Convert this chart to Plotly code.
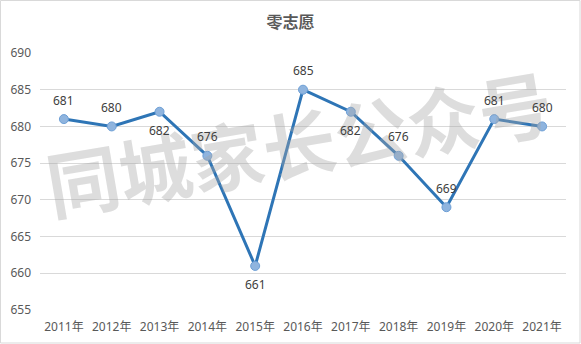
import plotly.graph_objects as go

years = ["2011年", "2012年", "2013年", "2014年", "2015年", "2016年",
         "2017年", "2018年", "2019年", "2020年", "2021年"]
scores = [681, 680, 682, 676, 661, 685, 682, 676, 669, 681, 680]
label_above = [True, True, False, True, False, True, False, True, True, True, True]
y_ticks = [655, 660, 665, 670, 675, 680, 685, 690]

FONT = "Segoe UI, Noto Sans, Noto Sans CJK SC, sans-serif"
CJK = "Microsoft YaHei, Noto Sans CJK SC, sans-serif"

fig = go.Figure()
fig.add_trace(go.Scatter(
    x=years, y=scores,
    mode="lines+markers",
    line=dict(color="#2e75b6", width=3),
    marker=dict(size=9, color="#8fb4de",
                line=dict(color="#6d9fd6", width=1)),
    cliponaxis=False,
    hoverinfo="skip",
))

# value labels placed above or below each point
labels = [dict(x=yr, y=v, text=str(v), showarrow=False,
               xref="x", yref="y", yshift=19 if up else -19,
               font=dict(family=FONT, size=12, color="#404040"))
          for yr, v, up in zip(years, scores, label_above)]

watermark = dict(text="<b>同城家长公众号</b>", xref="paper", yref="paper",
                 x=(298 - 40) / 526, y=(310 - 141) / 257,
                 xanchor="center", yanchor="middle", showarrow=False,
                 textangle=-9.6,
                 font=dict(family=CJK, size=73,
                           color="rgba(165,165,165,0.38)"))

fig.update_layout(
    width=581, height=344,
    margin=dict(l=40, r=15, t=53, b=34),
    paper_bgcolor="white", plot_bgcolor="white",
    showlegend=False,
    title=dict(text="<b>零志愿</b>", x=0.5, xanchor="center",
               y=1 - 22 / 344, yanchor="middle",
               font=dict(family=CJK, size=16, color="#595959")),
    xaxis=dict(type="category", range=[-0.5, len(years) - 0.5],
               showgrid=False, showline=False,
               ticks="", ticklabelstandoff=8, automargin=False,
               tickfont=dict(family=FONT, size=12, color="#595959")),
    yaxis=dict(range=[655, 690], tickvals=y_ticks, showline=False,
               gridcolor="#d9d9d9", gridwidth=1, zeroline=False,
               ticks="", ticklabelstandoff=8, automargin=False,
               tickfont=dict(family=FONT, size=12, color="#595959")),
    shapes=[dict(type="rect", xref="paper", yref="paper",
                 x0=-39.5 / 526, x1=1 + 14 / 526,
                 y0=-33 / 257, y1=1 + 52.5 / 257,
                 line=dict(color="#d9d9d9", width=1), fillcolor="rgba(0,0,0,0)")],
    annotations=[watermark] + labels,
)

fig.write_html("out.html")
